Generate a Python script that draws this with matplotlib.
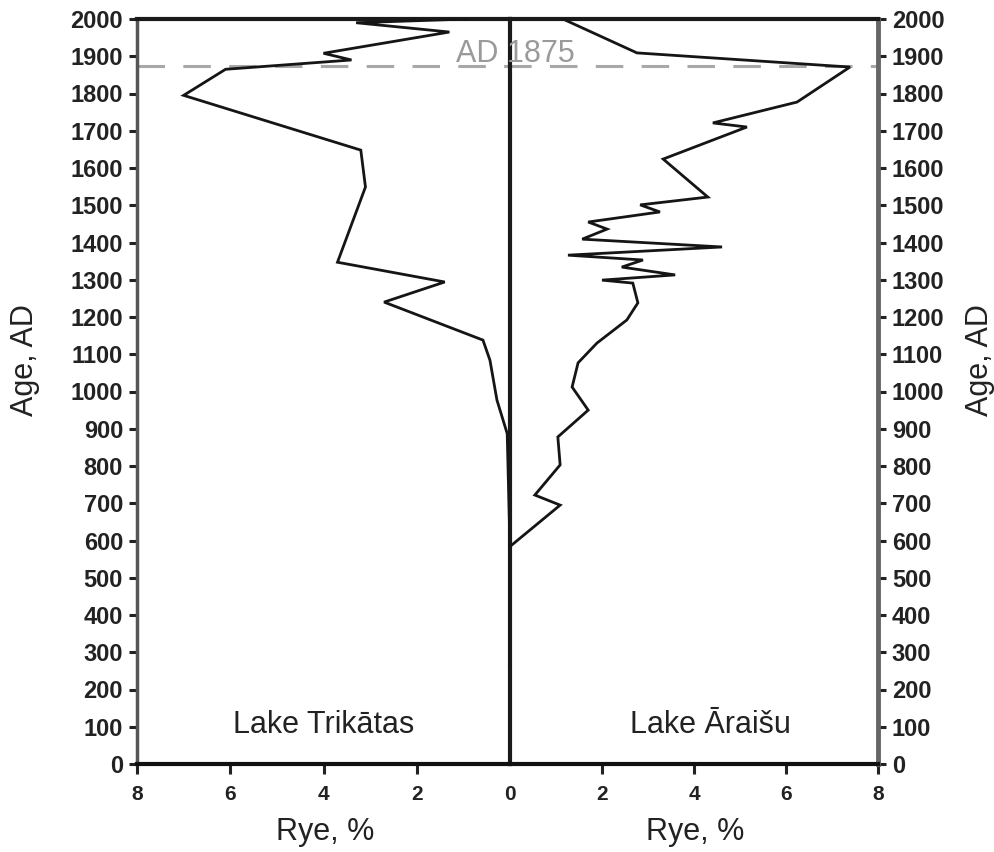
import matplotlib
matplotlib.use("Agg")
import matplotlib.pyplot as plt
import matplotlib.transforms as mtransforms

plt.rcParams['font.family'] = ['Liberation Sans', 'DejaVu Sans']

# Rye pollen, % (left: Lake Trikātas, right: Lake Āraišu)
trikatas_rye = [0.9, 3.3, 1.3, 4.0, 3.4, 6.1, 7.0, 3.2, 3.1, 3.7, 1.4, 2.7,
                0.58, 0.43, 0.28, 0.06, 0.0, 0.0]
trikatas_age = [2000, 1990, 1965, 1908, 1890, 1865, 1795, 1648, 1549, 1347, 1294, 1240,
                1138, 1084, 977, 887, 580, 260]

araisu_rye = [1.15, 2.76, 7.39, 6.24, 4.41, 5.15, 3.33, 4.30, 2.83, 3.26, 1.70, 2.11,
              1.57, 4.61, 1.26, 2.89, 2.43, 3.59, 2.0, 2.67, 2.78, 2.54, 1.89, 1.48,
              1.35, 1.70, 1.04, 1.09, 0.54, 1.09, 0.04]
araisu_age = [2000, 1909, 1871, 1777, 1721, 1710, 1624, 1522, 1501, 1482, 1455, 1436,
              1409, 1388, 1366, 1353, 1334, 1313, 1299, 1291, 1238, 1192, 1130, 1077,
              1012, 950, 878, 803, 722, 695, 588]

age_ticks = list(range(0, 2001, 100))
rye_ticks = [0, 2, 4, 6, 8]
marker_year = 1875
marker_text = "AD 1875"
lake_names = ["Lake Trikātas", "Lake Āraišu"]

W, H = 995, 852
fig = plt.figure(figsize=(W / 100, H / 100), dpi=100)
fig.patch.set_facecolor("white")

left, mid, right = 137 / W, 510 / W, 878 / W
bottom, top = 1 - 764 / H, 1 - 19 / H
ax_l = fig.add_axes([left, bottom, mid - left, top - bottom])
ax_r = fig.add_axes([mid, bottom, right - mid, top - bottom])
ax_r.patch.set_alpha(0)

line_kw = dict(color="#151515", lw=2.0, solid_joinstyle="miter", zorder=4)
ax_l.plot(trikatas_rye, trikatas_age, **line_kw)
ax_r.plot(araisu_rye, araisu_age, **line_kw)

ax_l.set_xlim(8, 0)
ax_r.set_xlim(0, 8)
ax_r.yaxis.tick_right()
for ax in (ax_l, ax_r):
    ax.set_ylim(0, 2000)
    ax.set_yticks(age_ticks)
    ax.tick_params(axis="x", direction="out", length=7, width=2.2,
                   labelsize=15, pad=8, colors="#222")
    ax.tick_params(axis="y", direction="out", length=6, width=2.2,
                   labelsize=17, pad=4, colors="#222")
    ax.spines["top"].set_linewidth(3)
    ax.spines["bottom"].set_linewidth(3)
    ax.spines["top"].set_color("#1a1a1a")
    ax.spines["bottom"].set_color("#111")

ax_l.set_xticks(rye_ticks)
ax_r.set_xticks(rye_ticks[1:])
ax_l.xaxis.get_major_ticks()[0].tick1line.set_visible(False)

for ax in (ax_l, ax_r):
    for tk in ax.xaxis.get_major_ticks() + ax.yaxis.get_major_ticks():
        tk.label1.set_fontweight("bold")
        tk.label2.set_fontweight("bold")

# shared centre spine, outer spines grey
ax_l.spines["right"].set_linewidth(3)
ax_l.spines["right"].set_color("#1a1a1a")
ax_l.spines["left"].set_linewidth(2.5)
ax_l.spines["left"].set_color("#555")
ax_r.spines["left"].set_visible(False)
ax_r.spines["right"].set_linewidth(3.5)
ax_r.spines["right"].set_color("#666")

# AD 1875 marker across both panels
trans = mtransforms.blended_transform_factory(fig.transFigure, ax_l.transData)
ax_l.plot([left, right], [marker_year, marker_year], transform=trans, clip_on=False,
          color="#a8a8a8", lw=2.2, linestyle=(0, (9, 6)), zorder=1)
ax_l.text(1.15, marker_year + 10, marker_text, color="#9a9a9a", fontsize=22,
          ha="left", va="baseline", zorder=3, clip_on=False)

ax_l.text(4.0, 105, lake_names[0], fontsize=22, color="#222", ha="center", va="center")
ax_r.text(4.35, 105, lake_names[1], fontsize=22, color="#222", ha="center", va="center")

fig.text(25 / W, 1 - 360 / H, "Age, AD", rotation=90, fontsize=22, color="#222",
         ha="center", va="center")
fig.text(980 / W, 1 - 360 / H, "Age, AD", rotation=90, fontsize=22, color="#222",
         ha="center", va="center")
fig.text(325 / W, 1 - 832 / H, "Rye, %", fontsize=22, color="#222", ha="center", va="center")
fig.text(695 / W, 1 - 832 / H, "Rye, %", fontsize=22, color="#222", ha="center", va="center")

fig.savefig("out.png", dpi=100, facecolor="white")
